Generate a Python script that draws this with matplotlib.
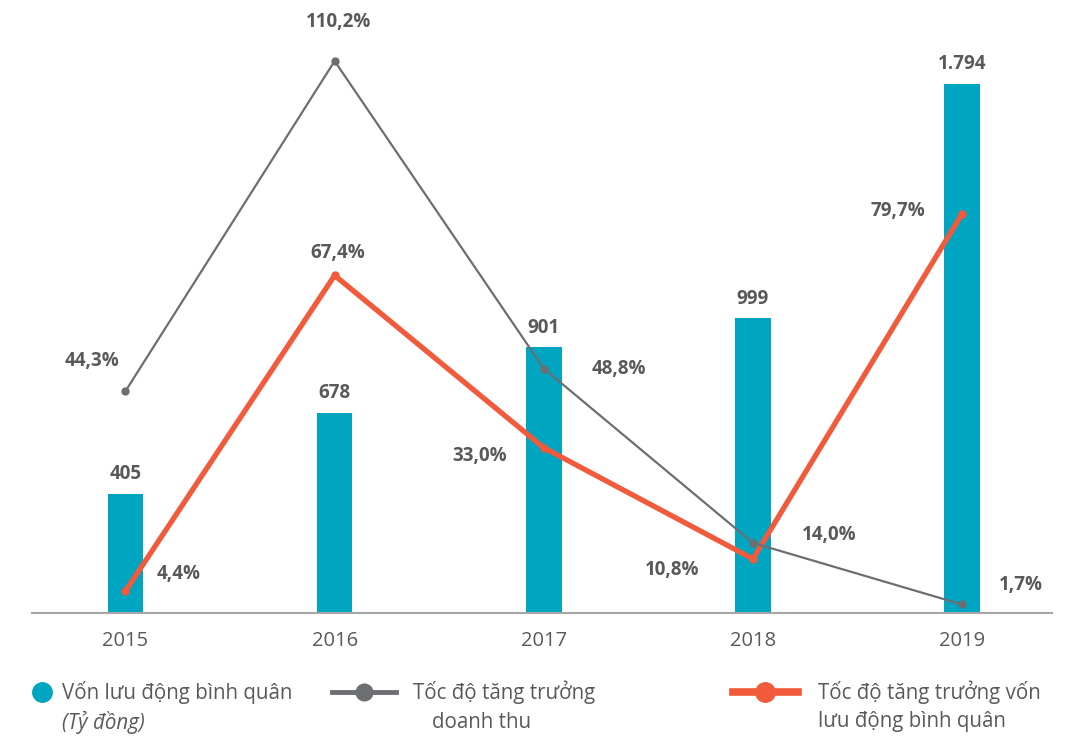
import numpy as np
import matplotlib.pyplot as plt
from matplotlib.lines import Line2D

plt.rcParams['font.family'] = ['Open Sans', 'Noto Sans', 'DejaVu Sans']

# data
years = ['2015', '2016', '2017', '2018', '2019']
von_binh_quan = [405, 678, 901, 999, 1794]
von_labels = ['405', '678', '901', '999', '1.794']
tang_truong_dt = [44.3, 110.2, 48.8, 14.0, 1.7]
tang_truong_von = [4.4, 67.4, 33.0, 10.8, 79.7]

teal = '#00A5C2'
gray = '#6D6E71'
orange = '#F15A3A'
txt = '#595959'

fig = plt.figure(figsize=(10.71, 7.38), dpi=100)
ax = fig.add_axes([32/1071, 1 - 613/738, 1020/1071, 573/738])
ax2 = ax.twinx()

x = np.arange(len(years))
ax.bar(x, von_binh_quan, width=0.17, color=teal, zorder=1)
ax.set_xlim(-0.447, 4.43)
ax.set_ylim(0, 1943)
ax2.set_ylim(0, 114.4)

for xi, v, lab in zip(x, von_binh_quan, von_labels):
    ax.annotate(lab, (xi, v), xytext=(0, 7), textcoords='offset points',
                ha='center', va='bottom', fontsize=13.5, fontweight='bold', color=txt)

ax2.plot(x, tang_truong_dt, color=gray, lw=1.6, marker='o', ms=5, zorder=3)
ax2.plot(x, tang_truong_von, color=orange, lw=3.8, marker='o', ms=5, zorder=2)

def pct(v):
    return f'{v:.1f}'.replace('.', ',') + '%'

# label offsets (points)
dt_off = [(-24, 22), (3, 28), (54, 0), (55, 6), (42, 14)]
von_off = [(38, 12), (2, 16), (-46, -6), (-58, -8), (-46, 2)]
for xi, v, o in zip(x, tang_truong_dt, dt_off):
    ax2.annotate(pct(v), (xi, v), xytext=o, textcoords='offset points',
                 ha='center', va='center', fontsize=13.5, fontweight='bold', color=txt)
for xi, v, o in zip(x, tang_truong_von, von_off):
    ax2.annotate(pct(v), (xi, v), xytext=o, textcoords='offset points',
                 ha='center', va='center', fontsize=13.5, fontweight='bold', color=txt)

for a in (ax, ax2):
    for s in ['top', 'right', 'left']:
        a.spines[s].set_visible(False)
    a.set_yticks([])
ax2.spines['bottom'].set_visible(False)
ax.spines['bottom'].set_color('#A6A6A6')
ax.spines['bottom'].set_linewidth(1.5)
ax.set_xticks(x)
ax.set_xticklabels(years, fontsize=14.5, color=txt)
ax.tick_params(axis='x', length=0, pad=13)

# legend drawn by hand
def fy(p):
    return 1 - p / 738

def fx(p):
    return p / 1071

fs = 14.8
fig.add_artist(Line2D([fx(42)], [fy(692)], marker='o', ms=14, color=teal, lw=0,
                      transform=fig.transFigure))
fig.text(fx(62), fy(692), 'Vốn lưu động bình quân', fontsize=fs, color=txt, va='center')
fig.text(fx(62), fy(722), '(Tỷ đồng)', fontsize=fs, color=txt, va='center', style='italic')

fig.add_artist(Line2D([fx(332), fx(396)], [fy(692), fy(692)], color=gray, lw=3.5,
                      transform=fig.transFigure))
fig.add_artist(Line2D([fx(364)], [fy(692)], marker='o', ms=12, color=gray, lw=0,
                      transform=fig.transFigure))
fig.text(fx(413), fy(692), 'Tốc độ tăng trưởng', fontsize=fs, color=txt, va='center')
fig.text(fx(432), fy(722), 'doanh thu', fontsize=fs, color=txt, va='center')

fig.add_artist(Line2D([fx(733), fx(798)], [fy(692), fy(692)], color=orange, lw=5.5,
                      transform=fig.transFigure))
fig.add_artist(Line2D([fx(765)], [fy(692)], marker='o', ms=14, color=orange, lw=0,
                      transform=fig.transFigure))
fig.text(fx(818), fy(692), 'Tốc độ tăng trưởng vốn', fontsize=fs, color=txt, va='center')
fig.text(fx(818), fy(722), 'lưu động bình quân', fontsize=fs, color=txt, va='center')

fig.savefig('out.png', dpi=100)
